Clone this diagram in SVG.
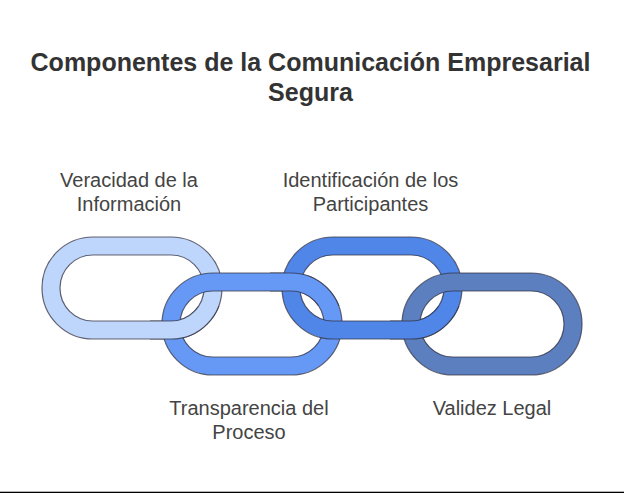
<svg xmlns="http://www.w3.org/2000/svg" width="624" height="493" viewBox="0 0 624 493">
<style>
text{font-family:"Liberation Sans",Arial,sans-serif;fill:#333;text-anchor:middle}
.t{font-size:25px;font-weight:700}
.l{font-size:20px;fill:#444}
.r{stroke:#334;stroke-opacity:.75;stroke-width:1.2;fill-rule:evenodd}
</style>
<defs>
<path id="ring" d="M51 0H129A51 51 0 0 1 129 102H51A51 51 0 0 1 51 0ZM51 18A33 33 0 0 0 51 84H129A33 33 0 0 0 129 18Z"/>
<clipPath id="c1"><rect x="150" y="306" width="80" height="40"/></clipPath>
<clipPath id="c2"><rect x="270" y="266" width="80" height="40"/></clipPath>
<clipPath id="c3"><rect x="390" y="306" width="80" height="40"/></clipPath>
</defs>
<rect width="624" height="493" fill="#fff"/>
<g id="title"><text class="t" x="310.500" y="71">Componentes de la Comunicación Empresarial</text><text class="t" x="310.500" y="101">Segura</text></g>
<g id="link1"><use href="#ring" class="r" x="42" y="237" fill="#BFD6FC"/><text class="l" x="129" y="187">Veracidad de la</text><text class="l" x="129" y="211">Información</text></g>
<g id="link2"><use href="#ring" class="r" x="162" y="273" fill="#6699F5"/><text class="l" x="249" y="415">Transparencia del</text><text class="l" x="249" y="439">Proceso</text></g>
<g id="link3"><use href="#ring" class="r" x="282" y="237" fill="#4F86E8"/><text class="l" x="370.500" y="187">Identificación de los</text><text class="l" x="370.500" y="211">Participantes</text></g>
<g id="link4"><use href="#ring" class="r" x="402" y="273" fill="#5B7FBF"/><text class="l" x="492" y="415">Validez Legal</text></g>
<g id="connectors">
<g clip-path="url(#c1)"><use href="#ring" class="r" x="42" y="237" fill="#BFD6FC"/></g>
<g clip-path="url(#c2)"><use href="#ring" class="r" x="162" y="273" fill="#6699F5"/></g>
<g clip-path="url(#c3)"><use href="#ring" class="r" x="282" y="237" fill="#4F86E8"/></g>
</g>
<rect id="rule" x="0" y="491.700" width="624" height="1.300" fill="#000"/>
</svg>
